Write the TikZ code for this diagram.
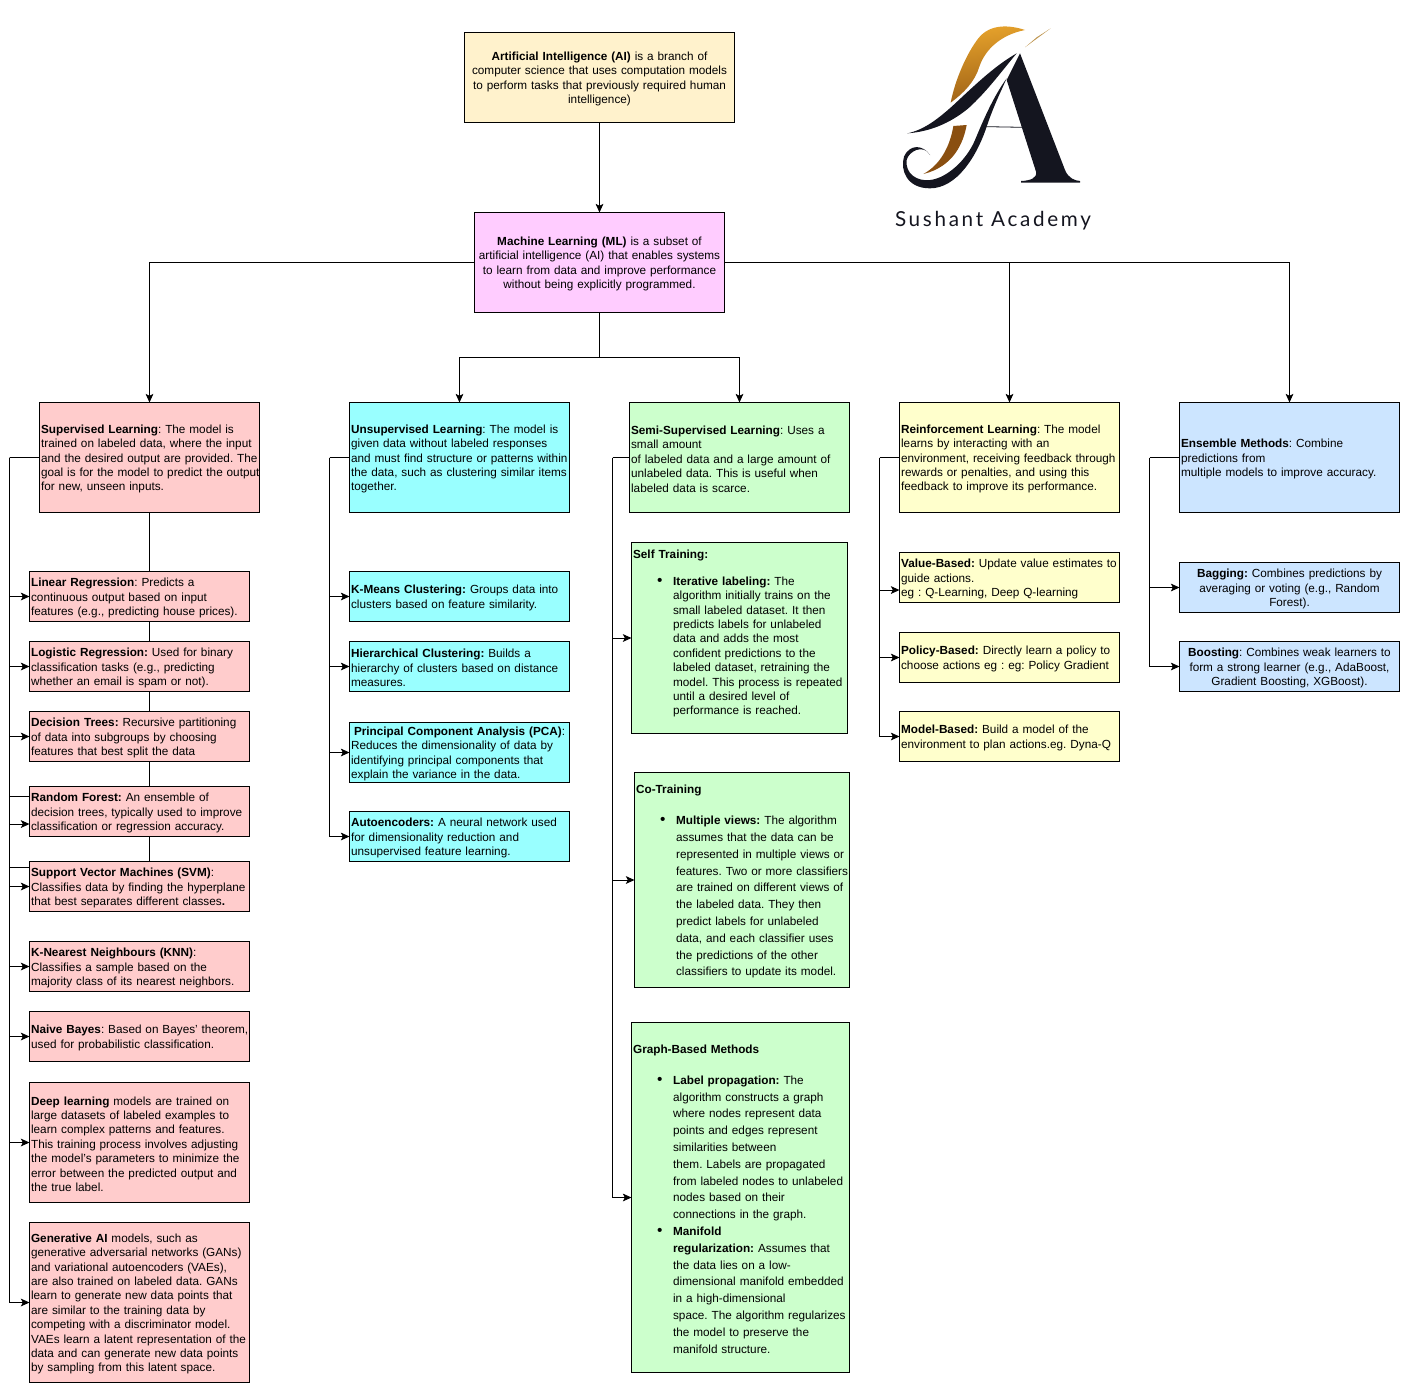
\documentclass[tikz,border=0pt]{standalone}
\usepackage{fontspec}
\setmainfont{Liberation Sans}
\newfontfamily\logofont[LetterSpace=13]{Lato}
\usetikzlibrary{arrows.meta}
\definecolor{aicol}{HTML}{FFF2CC}
\definecolor{mlcol}{HTML}{FFCCFF}
\definecolor{supcol}{HTML}{FFCCCC}
\definecolor{unscol}{HTML}{99FFFF}
\definecolor{semcol}{HTML}{CCFFCC}
\definecolor{reicol}{HTML}{FFFFCC}
\definecolor{enscol}{HTML}{CCE5FF}
\definecolor{logoink}{HTML}{14151F}
\definecolor{goldtop}{HTML}{E8A42C}
\definecolor{goldlow}{HTML}{8A4F10}
\newcommand{\ind}{\hspace*{30pt}}
\newcommand{\bul}{\ind\llap{{\fontsize{11.5}{10}\selectfont\textbullet}\hspace*{8pt}}}
\newcommand{\boxstart}{\frenchspacing\hyphenpenalty=10000\rule{0pt}{8.7pt}}
\tikzset{
  box/.style 2 args={draw, line width=0.75pt, anchor=north west, outer sep=0pt, inner xsep=1.2pt, inner ysep=0pt,
    minimum width={#1*0.75pt}, minimum height={#2*0.75pt}, text width={(#1*0.75-2.4)*1pt},
    align=left, font=\fontsize{8.82}{10.8}\selectfont,
    execute at begin node={\boxstart\rightskip=-8pt plus 1fil}},
  midbox/.style={align=center, execute at begin node={\boxstart\leftskip=-4pt plus 1fil\rightskip=-4pt plus 1fil\parfillskip=0pt}},
  listfont/.style={font=\fontsize{8.82}{12.6}\selectfont},
  flow/.style={line width=0.75pt, -{Stealth[length=6.5pt,width=5.8pt,inset=1.5pt]}},
  plain/.style={line width=0.75pt}
}
\begin{document}
\begin{tikzpicture}[x=0.75pt,y=-0.75pt]
  \useasboundingbox (0,0) rectangle (1402,1385);

  % Top
  \node[box={270}{90}, fill=aicol, midbox] (ai) at (464.5,32.5) {\textbf{Artificial Intelligence (AI)} is a branch of\\computer science that uses computation models\\to perform tasks that previously required human\\intelligence)};
  \node[box={250}{100}, fill=mlcol, midbox] (ml) at (474.5,212.5) {\textbf{Machine Learning (ML)} is a subset of\\artificial intelligence (AI) that enables systems\\to learn from data and improve performance\\without being explicitly programmed.};

  % Main branches
  \node[box={220}{110}, fill=supcol] (sl) at (39.5,402.5) {\textbf{Supervised Learning}: The model is\\trained on labeled data, where the input\\and the desired output are provided. The\\goal is for the model to predict the output\\for new, unseen inputs.};
  \node[box={220}{110}, fill=unscol] (usl) at (349.5,402.5) {\textbf{Unsupervised Learning}: The model is\\given data without labeled responses\\and must find structure or patterns within\\the data, such as clustering similar items\\together.};
  \node[box={220}{110}, fill=semcol] (ssl) at (629.5,402.5) {\textbf{Semi-Supervised Learning}: Uses a\\small amount\\of labeled data and a large amount of\\unlabeled data. This is useful when\\labeled data is scarce.};
  \node[box={220}{110}, fill=reicol] (rl) at (899.5,402.5) {\textbf{Reinforcement Learning}: The model\\learns by interacting with an\\environment, receiving feedback through\\rewards or penalties, and using this\\feedback to improve its performance.};
  \node[box={220}{110}, fill=enscol] (em) at (1179.5,402.5) {\textbf{Ensemble Methods}: Combine\\predictions from\\multiple models to improve accuracy.};

  % Supervised
  \node[box={220}{50}, fill=supcol] (lr) at (29.5,571.5) {\textbf{Linear Regression}: Predicts a\\continuous output based on input\\features (e.g., predicting house prices).};
  \node[box={220}{50}, fill=supcol] (logr) at (29.5,641.5) {\textbf{Logistic Regression:} Used for binary\\classification tasks (e.g., predicting\\whether an email is spam or not).};
  \node[box={220}{50}, fill=supcol] (dt) at (29.5,711.5) {\textbf{Decision Trees:} Recursive partitioning\\of data into subgroups by choosing\\features that best split the data};
  \node[box={220}{50}, fill=supcol] (rf) at (29.5,786.5) {\textbf{Random Forest:} An ensemble of\\decision trees, typically used to improve\\classification or regression accuracy.};
  \node[box={220}{50}, fill=supcol] (svm) at (29.5,861.5) {\textbf{Support Vector Machines (SVM)}:\\Classifies data by finding the hyperplane\\that best separates different classes\textbf{.}};
  \node[box={220}{50}, fill=supcol] (knn) at (29.5,941.5) {\textbf{K-Nearest Neighbours (KNN)}:\\Classifies a sample based on the\\majority class of its nearest neighbors.};
  \node[box={220}{50}, fill=supcol] (nb) at (29.5,1011.5) {\textbf{Naive Bayes}: Based on Bayes' theorem,\\used for probabilistic classification.};
  \node[box={220}{120}, fill=supcol] (dl) at (29.5,1082.5) {\textbf{Deep learning} models are trained on\\large datasets of labeled examples to\\learn complex patterns and features.\\This training process involves adjusting\\the model's parameters to minimize the\\error between the predicted output and\\the true label.};
  \node[box={220}{160}, fill=supcol] (gai) at (29.5,1222.5) {\textbf{Generative AI} models, such as\\generative adversarial networks (GANs)\\and variational autoencoders (VAEs),\\are also trained on labeled data. GANs\\learn to generate new data points that\\are similar to the training data by\\competing with a discriminator model.\\VAEs learn a latent representation of the\\data and can generate new data points\\by sampling from this latent space.};

  % Unsupervised
  \node[box={220}{50}, fill=unscol] (km) at (349.5,571.5) {\textbf{K-Means Clustering:} Groups data into\\clusters based on feature similarity.};
  \node[box={220}{50}, fill=unscol] (hc) at (349.5,641.5) {\textbf{Hierarchical Clustering:} Builds a\\hierarchy of clusters based on distance\\measures.};
  \node[box={220}{60}, fill=unscol] (pca) at (349.5,722.5) {\hspace*{2.2pt}\textbf{Principal Component Analysis (PCA)}:\\Reduces the dimensionality of data by\\identifying principal components that\\explain the variance in the data.};
  \node[box={220}{50}, fill=unscol] (ae) at (349.5,811.5) {\textbf{Autoencoders:} A neural network used\\for dimensionality reduction and\\unsupervised feature learning.};

  % Semi-supervised
  \node[box={216}{191}, fill=semcol] (st) at (631.5,542.5) {\textbf{Self Training:}\\[9.4pt]
    \bul\textbf{Iterative labeling:} The\\\ind algorithm initially trains on the\\\ind small labeled dataset. It then\\\ind predicts labels for unlabeled\\\ind data and adds the most\\\ind confident predictions to the\\\ind labeled dataset, retraining the\\\ind model. This process is repeated\\\ind until a desired level of\\\ind performance is reached.\\\mbox{}};
  \node[box={215}{215}, listfont, fill=semcol] (ct) at (634.5,772.5) {\textbf{Co-Training}\\[11pt]
    \bul\textbf{Multiple views:} The algorithm\\\ind assumes that the data can be\\\ind represented in multiple views or\\\ind features. Two or more classifiers\\\ind are trained on different views of\\\ind the labeled data. They then\\\ind predict labels for unlabeled\\\ind data, and each classifier uses\\\ind the predictions of the other\\\ind classifiers to update its model.};
  \node[box={218}{350}, listfont, fill=semcol] (gb) at (631.5,1022.5) {\textbf{Graph-Based Methods}\\[10.5pt]
    \bul\textbf{Label propagation:} The\\\ind algorithm constructs a graph\\\ind where nodes represent data\\\ind points and edges represent\\\ind similarities between\\\ind them. Labels are propagated\\\ind from labeled nodes to unlabeled\\\ind nodes based on their\\\ind connections in the graph.\\
    \bul\textbf{Manifold}\\\ind\textbf{regularization:} Assumes that\\\ind the data lies on a low-\\\ind dimensional manifold embedded\\\ind in a high-dimensional\\\ind space. The algorithm regularizes\\\ind the model to preserve the\\\ind manifold structure.};

  % Reinforcement
  \node[box={220}{50}, fill=reicol] (vb) at (899.5,552.5) {\textbf{Value-Based:} Update value estimates to\\guide actions.\\eg : Q-Learning, Deep Q-learning};
  \node[box={220}{50}, fill=reicol] (pb) at (899.5,632.5) {\textbf{Policy-Based:} Directly learn a policy to\\choose actions eg : eg: Policy Gradient};
  \node[box={220}{50}, fill=reicol] (mb) at (899.5,711.5) {\textbf{Model-Based:} Build a model of the\\environment to plan actions.eg. Dyna-Q};

  % Ensemble
  \node[box={220}{50}, fill=enscol, midbox] (bag) at (1179.5,562.5) {\textbf{Bagging:} Combines predictions by\\averaging or voting (e.g., Random\\Forest).};
  \node[box={220}{50}, fill=enscol, midbox] (boost) at (1179.5,641.5) {\textbf{Boosting}: Combines weak learners to\\form a strong learner (e.g., AdaBoost,\\Gradient Boosting, XGBoost).};

  % Verbindungen oben
  \coordinate (mlsplit) at (599.5,357.5);
  \draw[flow] (ai) -- (ml);
  \draw[flow] (ml.west) -| (sl.north);
  \draw[flow] (ml.east) -| (rl.north);
  \draw[flow] (ml.east) -| (em.north);
  \draw[plain] (ml.south) -- (mlsplit);
  \draw[flow] (mlsplit) -| (usl.north);
  \draw[flow] (mlsplit) -| (ssl.north);

  % Supervised Leitung
  \coordinate (sltrunk) at (9.5,457.5);
  \draw[plain] (sl.west) -- (sltrunk);
  \foreach \target in {lr,logr,dt,svm,knn,nb,dl,gai}
    \draw[flow] (sltrunk) |- (\target.west);
  \draw[flow] (sltrunk) |- ([yshift=-9.4pt]rf.west);
  \draw[plain] (sltrunk) |- ([yshift=10.9pt]rf.west);
  \draw[plain] (sltrunk) |- ([yshift=14.6pt]svm.west);
  \draw[plain] (sl.south) -- (sl.south |- lr.north);
  \foreach \upper/\lower in {lr/logr,logr/dt,dt/rf,rf/svm}
    \draw[plain] (sl.south |- \upper.south) -- (sl.south |- \lower.north);

  % Unsupervised Leitung
  \coordinate (usltrunk) at (329.5,457.5);
  \draw[plain] (usl.west) -- (usltrunk);
  \foreach \target in {km,hc,pca,ae}
    \draw[flow] (usltrunk) |- (\target.west);

  % Semi-supervised Leitung
  \coordinate (ssltrunk) at (612.5,457.5);
  \draw[plain] (ssl.west) -- (ssltrunk);
  \foreach \target in {st,ct,gb}
    \draw[flow] (ssltrunk) |- (\target.west);

  % Reinforcement Leitung
  \coordinate (rltrunk) at (879.5,457.5);
  \draw[plain] (rl.west) -- (rltrunk);
  \draw[flow] (rltrunk) |- ([yshift=-9.4pt]vb.west);
  \foreach \target in {pb,mb}
    \draw[flow] (rltrunk) |- (\target.west);

  % Ensemble Leitung
  \coordinate (emtrunk) at (1149.5,457.5);
  \draw[plain] (em.west) -- (emtrunk);
  \foreach \target in {bag,boost}
    \draw[flow] (emtrunk) |- (\target.west);

  % Logo
  \begin{scope}[shift={(880,10)},x=0.25pt,y=-0.25pt]
    \shade[top color=goldtop, bottom color=goldlow!80!goldtop, shading angle=8] (435,60) .. controls (390,45) and (330,40) .. (295,85) .. controls (260,130) and (225,210) .. (212,278) .. controls (250,250) and (285,215) .. (298,170) .. controls (315,120) and (360,75) .. (435,60) -- cycle;
    \fill[goldlow] (220,348) -- (260,345) .. controls (250,400) and (220,470) .. (130,492) .. controls (180,465) and (210,410) .. (220,348) -- cycle;
    \fill[goldtop!60!gray] (512,55) -- (435,112) -- (470,82) -- cycle;
    \fill[logoink] (82,370) .. controls (150,365) and (210,340) .. (265,295) .. controls (320,245) and (360,190) .. (410,130) .. controls (340,170) and (280,230) .. (215,290) .. controls (170,330) and (130,360) .. (82,370) -- cycle;
    \fill[logoink] (420,130) -- (555,480) .. controls (565,505) and (585,512) .. (600,513) -- (600,518) -- (423,518) -- (423,513) .. controls (450,512) and (472,505) .. (468,485) -- (380,210) -- cycle;
    \fill[logoink] (380,205) .. controls (340,260) and (310,330) .. (285,390) .. controls (260,450) and (200,505) .. (150,510) .. controls (110,515) and (75,490) .. (80,450) .. controls (85,425) and (130,400) .. (150,435) .. controls (130,405) and (90,400) .. (72,440) .. controls (60,480) and (80,535) .. (150,535) .. controls (230,535) and (290,440) .. (320,350) .. controls (340,290) and (360,250) .. (380,205) -- cycle;
    \draw[logoink, line width=0.6pt] (318,350) -- (432,352);
  \end{scope}
  \node[font=\logofont\fontsize{15.5}{17}\selectfont, text=logoink, inner sep=0pt] (logotext) at (993,221) {Sushant Academy};
\end{tikzpicture}
\end{document}
